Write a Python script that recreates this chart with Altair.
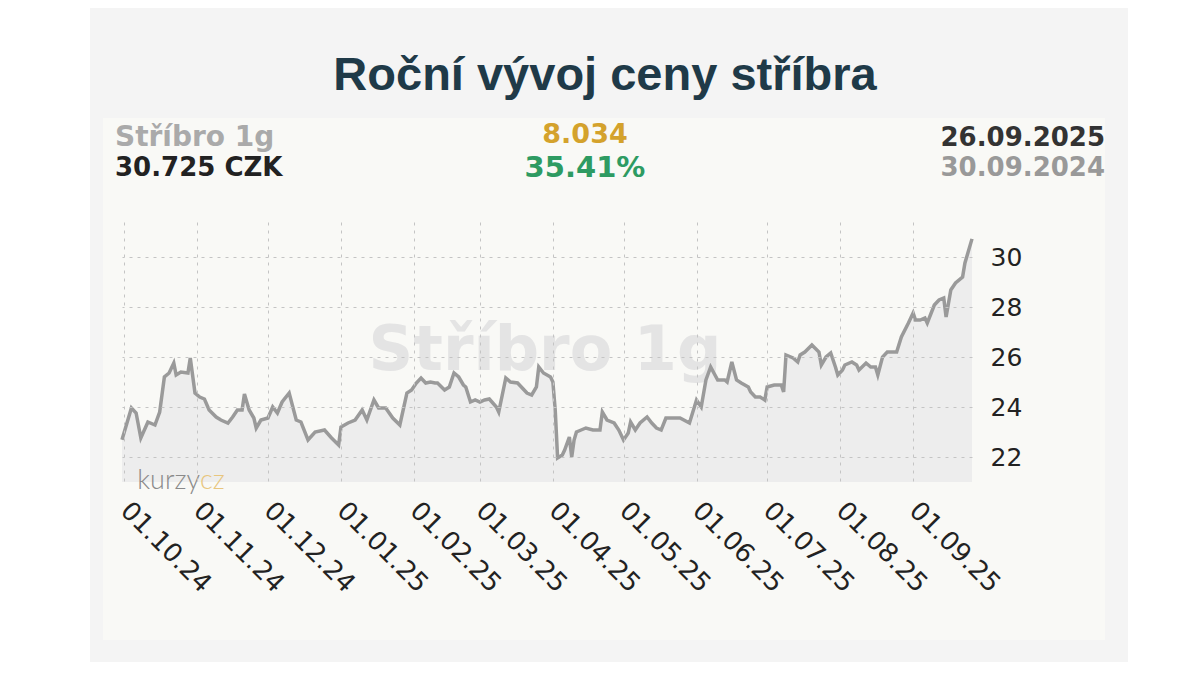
import altair as alt
import pandas as pd

# ---- data ----
dates = [
    "2024-09-30", "2024-10-04", "2024-10-06", "2024-10-08", "2024-10-11", "2024-10-14",
    "2024-10-16", "2024-10-18", "2024-10-20", "2024-10-22", "2024-10-23", "2024-10-25",
    "2024-10-28", "2024-10-29", "2024-10-31", "2024-11-02", "2024-11-04", "2024-11-06",
    "2024-11-09", "2024-11-11", "2024-11-14", "2024-11-16", "2024-11-18", "2024-11-20",
    "2024-11-21", "2024-11-23", "2024-11-25", "2024-11-26", "2024-11-28", "2024-12-01",
    "2024-12-03", "2024-12-05", "2024-12-07", "2024-12-10", "2024-12-13", "2024-12-15",
    "2024-12-18", "2024-12-21", "2024-12-25", "2024-12-28", "2024-12-31", "2025-01-01",
    "2025-01-04", "2025-01-07", "2025-01-10", "2025-01-12", "2025-01-15", "2025-01-17",
    "2025-01-20", "2025-01-23", "2025-01-26", "2025-01-29", "2025-01-31", "2025-02-02",
    "2025-02-04", "2025-02-06", "2025-02-08", "2025-02-10", "2025-02-11", "2025-02-14",
    "2025-02-16", "2025-02-18", "2025-02-20", "2025-02-22", "2025-02-23", "2025-02-25",
    "2025-02-27", "2025-03-01", "2025-03-03", "2025-03-05", "2025-03-08", "2025-03-09",
    "2025-03-12", "2025-03-14", "2025-03-17", "2025-03-21", "2025-03-23", "2025-03-25",
    "2025-03-26", "2025-03-28", "2025-03-31", "2025-04-01", "2025-04-02", "2025-04-03",
    "2025-04-05", "2025-04-06", "2025-04-08", "2025-04-09", "2025-04-10", "2025-04-11",
    "2025-04-13", "2025-04-15", "2025-04-18", "2025-04-21", "2025-04-22", "2025-04-24",
    "2025-04-27", "2025-04-29", "2025-05-01", "2025-05-03", "2025-05-04", "2025-05-06",
    "2025-05-08", "2025-05-11", "2025-05-13", "2025-05-15", "2025-05-17", "2025-05-19",
    "2025-05-21", "2025-05-25", "2025-05-29", "2025-06-01", "2025-06-03", "2025-06-05",
    "2025-06-07", "2025-06-10", "2025-06-13", "2025-06-14", "2025-06-16", "2025-06-18",
    "2025-06-20", "2025-06-23", "2025-06-24", "2025-06-26", "2025-06-28", "2025-06-30",
    "2025-07-01", "2025-07-04", "2025-07-07", "2025-07-08", "2025-07-09", "2025-07-12",
    "2025-07-14", "2025-07-15", "2025-07-17", "2025-07-20", "2025-07-23", "2025-07-24",
    "2025-07-26", "2025-07-28", "2025-07-30", "2025-07-31", "2025-08-02", "2025-08-03",
    "2025-08-06", "2025-08-08", "2025-08-09", "2025-08-12", "2025-08-14", "2025-08-16",
    "2025-08-17", "2025-08-19", "2025-08-21", "2025-08-25", "2025-08-27", "2025-08-30",
    "2025-09-01", "2025-09-02", "2025-09-04", "2025-09-06", "2025-09-07", "2025-09-10",
    "2025-09-12", "2025-09-14", "2025-09-15", "2025-09-17", "2025-09-19", "2025-09-22",
    "2025-09-23", "2025-09-26",
]
prices = [
    22.69, 23.96, 23.76, 22.76, 23.40, 23.28,
    23.80, 25.20, 25.36, 25.76, 25.28, 25.40,
    25.36, 25.96, 24.56, 24.40, 24.32, 23.88,
    23.60, 23.48, 23.36, 23.60, 23.88, 23.88,
    24.52, 23.88, 23.56, 23.16, 23.48, 23.56,
    24.00, 23.76, 24.20, 24.56, 23.48, 23.40,
    22.68, 23.00, 23.08, 22.76, 22.48, 23.20,
    23.36, 23.48, 23.88, 23.48, 24.28, 23.96,
    23.96, 23.56, 23.28, 24.56, 24.68, 24.96,
    25.16, 24.96, 25.00, 24.96, 24.96, 24.68,
    24.80, 25.36, 25.20, 24.88, 24.80, 24.20,
    24.28, 24.20, 24.28, 24.32, 24.00, 23.80,
    25.16, 25.00, 24.96, 24.56, 24.48, 24.80,
    25.60, 25.36, 25.20, 25.00, 23.88, 21.96,
    22.08, 22.28, 22.80, 22.00, 22.68, 23.00,
    23.08, 23.16, 23.08, 23.08, 23.80, 23.48,
    23.36, 23.08, 22.68, 22.96, 23.40, 23.08,
    23.36, 23.60, 23.36, 23.16, 23.08, 23.56,
    23.56, 23.56, 23.36, 24.28, 24.00, 25.08,
    25.60, 25.08, 25.08, 25.00, 25.80, 25.08,
    24.96, 24.80, 24.60, 24.40, 24.40, 24.28,
    24.80, 24.88, 24.88, 24.60, 26.08, 25.96,
    25.80, 26.08, 26.20, 26.48, 26.20, 25.68,
    26.00, 26.16, 25.60, 25.28, 25.48, 25.68,
    25.80, 25.68, 25.48, 25.76, 25.60, 25.60,
    25.28, 26.00, 26.20, 26.20, 26.80, 27.36,
    27.76, 27.48, 27.48, 27.56, 27.36, 28.08,
    28.28, 28.36, 27.60, 28.68, 28.96, 29.20,
    29.76, 30.725,
]
month_ticks = [
    "2024-10-01", "2024-11-01", "2024-12-01", "2025-01-01", "2025-02-01", "2025-03-01",
    "2025-04-01", "2025-05-01", "2025-06-01", "2025-07-01", "2025-08-01", "2025-09-01",
]
y_ticks = [22, 24, 26, 28, 30]
x_domain = ["2024-09-30", "2025-09-26"]
y_domain = [21, 31.4]

title_text = "Roční vývoj ceny stříbra"
metal_name = "Stříbro 1g"
price_text = "30.725 CZK"
change_abs = "8.034"
change_pct = "35.41%"
date_end = "26.09.2025"
date_start = "30.09.2024"
logo_a = "kurzy"
logo_b = "cz"


def ms(s):
    return int(pd.Timestamp(s, tz="UTC").value // 10**6)


df = pd.DataFrame({"date": dates, "price": prices})
one = pd.DataFrame({"k": [0]})

W, H = 850, 260

x_enc = alt.X(
    "date:T",
    scale=alt.Scale(type="utc", domain=[ms(d) for d in x_domain], nice=False),
    axis=alt.Axis(
        values=[ms(d) for d in month_ticks],
        format="%d.%m.%y",
        labelAngle=45,
        labelAlign="left",
        labelBaseline="middle",
        labelFontSize=26,
        labelFont="DejaVu Sans",
        labelColor="#222222",
        labelPadding=24,
        ticks=False,
        domain=False,
        grid=True,
        gridColor="#c4c4c4",
        gridDash=[3, 5],
        gridWidth=1,
        title=None,
        zindex=1,
        labelOverlap=False,
    ),
)
y_enc = alt.Y(
    "price:Q",
    scale=alt.Scale(domain=y_domain, zero=False, nice=False),
    axis=alt.Axis(
        orient="right",
        values=y_ticks,
        labelFontSize=25,
        labelFont="DejaVu Sans",
        labelColor="#222222",
        labelPadding=18,
        ticks=False,
        domain=False,
        grid=True,
        gridColor="#c4c4c4",
        gridDash=[3, 5],
        gridWidth=1,
        title=None,
        zindex=1,
    ),
)

pattern = alt.Chart(one).mark_rect(color="#f4f4f4").encode(
    x=alt.value(-32), x2=alt.value(1006), y=alt.value(-230), y2=alt.value(445)
)
panel = alt.Chart(one).mark_rect(color="#f9f9f6").encode(
    x=alt.value(-19), x2=alt.value(983), y=alt.value(-104), y2=alt.value(418)
)


def txt(s, x, y, size, color, align="left", weight="bold", font="DejaVu Sans"):
    return alt.Chart(pd.DataFrame({"t": [s]})).mark_text(
        align=align, baseline="alphabetic", fontSize=size, fontWeight=weight,
        font=font, color=color,
    ).encode(x=alt.value(x), y=alt.value(y), text="t:N")


watermark = txt(metal_name, 423, 148, 62, "#e4e4e4", align="center")

area = alt.Chart(df).mark_area(color="#ededed").encode(
    x=x_enc, y=y_enc, y2=alt.datum(y_domain[0])
)
line = alt.Chart(df).mark_line(color="#9a9a9a", strokeWidth=3.5).encode(x=x_enc, y=y_enc)

texts = [
    txt(title_text, 483, -132, 47, "#1f3a48", align="center", font="Liberation Sans"),
    txt(metal_name, -7, -76, 28, "#aaaaaa"),
    txt(price_text, -7, -46, 26, "#222222"),
    txt(change_abs, 463, -79, 27, "#d4a22c", align="center"),
    txt(change_pct, 463, -45, 29, "#2e9b62", align="center"),
    txt(date_end, 983, -76, 26, "#333333", align="right"),
    txt(date_start, 983, -46, 26, "#999999", align="right"),
    txt(logo_a, 78, 267, 27, "#8a8a8a", align="right", weight=300, font="Lato"),
    txt(logo_b, 78, 267, 27, "#e8c67e", align="left", weight=300, font="Lato"),
]

chart = alt.layer(pattern, panel, watermark, area, line, *texts).properties(
    width=W, height=H,
    autosize=alt.AutoSizeParams(type="none"),
    padding={"left": 114, "top": 214, "right": 156, "bottom": 180},
).configure_view(stroke=None).configure(background="white")

chart.save("out.html", embed_options={"renderer": "svg", "actions": False})
